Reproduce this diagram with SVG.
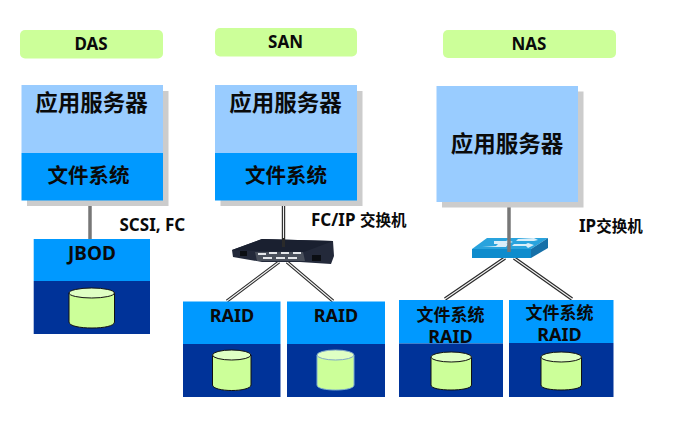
<svg xmlns="http://www.w3.org/2000/svg" width="673" height="425" viewBox="0 0 673 425">
<style>
text{font-family:"Noto Sans","Noto Sans CJK SC",sans-serif;font-weight:700;fill:#0a0a0a;text-anchor:middle}
.pill{fill:#ccff99}
.shadow{fill:#cccccc}
.light{fill:#99ccff}
.blue{fill:#0099ff}
.dark{fill:#003399}
.t22{font-size:22.500px}
.t20{font-size:20.500px}
.t17{font-size:18px}
.t15{font-size:17px}
.lab{font-size:17px;text-anchor:start}
.cjk{font-size:15.500px}
.cb{fill:#ccff99;stroke:#111;stroke-width:1}
.ct{fill:#dfffc4;stroke:#111;stroke-width:1}
.gray{stroke:#777;stroke-width:3.5;fill:none}
.dk{stroke:#2a2a2a;stroke-width:3.4;fill:none}
.wh{stroke:#f2f2f2;stroke-width:1.1;fill:none}
</style>
<rect width="673" height="425" fill="#fff"/>
<g id="connectors">
<path class="gray" d="M90 200V239"/>
<path class="dk" d="M283.500 200V249"/><path class="wh" d="M283.500 200V247"/>
<path class="gray" d="M509 203V251"/>
<path class="dk" d="M279 262L227 301M287 262L333 301M505 258L445 299M514 258L572 299"/>
<path class="wh" d="M279 262L227 301M287 262L333 301M505 258L445 299M514 258L572 299"/>
</g>
<g id="das-title"><rect class="pill" x="20" y="30" width="143" height="28.500" rx="5"/><text class="t15" x="91" y="50">DAS</text></g>
<g id="san-title"><rect class="pill" x="215" y="28" width="142" height="28.500" rx="5"/><text class="t15" x="285.500" y="48">SAN</text></g>
<g id="nas-title"><rect class="pill" x="443" y="30" width="173" height="28" rx="5"/><text class="t15" x="529" y="50">NAS</text></g>
<g id="das-server">
<rect class="shadow" x="27" y="91" width="141.500" height="115"/>
<rect class="light" x="21.500" y="85" width="141.500" height="68"/>
<rect class="blue" x="21.500" y="153" width="141.500" height="47.500"/>
<text class="t22" x="91.500" y="111">应用服务器</text>
<text class="t20" x="88.500" y="183">文件系统</text>
</g>
<g id="san-server">
<rect class="shadow" x="220.500" y="91" width="142" height="115"/>
<rect class="light" x="215" y="85" width="142" height="68"/>
<rect class="blue" x="215" y="153" width="142" height="47.500"/>
<text class="t22" x="285.500" y="111">应用服务器</text>
<text class="t20" x="286" y="183">文件系统</text>
</g>
<g id="nas-server">
<rect class="shadow" x="442" y="91.500" width="141.500" height="116"/>
<rect class="light" x="436.500" y="86" width="141.500" height="116"/>
<text class="t22" x="507" y="152">应用服务器</text>
</g>
<g id="jbod">
<rect class="blue" x="33.700" y="239" width="116.300" height="42"/>
<rect class="dark" x="33.700" y="281" width="116.300" height="53"/>
<text x="92" y="259.500" style="font-size:19px">JBOD</text>
<path class="cb" d="M69 293V322C69 326 80 328 92 328S114.500 326 114.500 322V293Z"/><ellipse class="ct" cx="91.700" cy="293" rx="22.700" ry="5"/>
</g>
<g id="raid-1">
<rect class="blue" x="183" y="301.500" width="97.500" height="42.500"/>
<rect class="dark" x="183" y="344" width="97.500" height="53"/>
<text class="t17" x="232" y="322">RAID</text>
<path class="cb" d="M212.500 355V385C212.500 388.500 222 390.500 231.700 390.500S251 388.500 251 385V355Z"/><ellipse class="ct" cx="231.700" cy="355" rx="19.200" ry="5"/>
</g>
<g id="raid-2">
<rect class="blue" x="287" y="301.500" width="98" height="42.500"/>
<rect class="dark" x="287" y="344" width="98" height="53"/>
<text class="t17" x="336" y="322">RAID</text>
<path d="M317 355V385C317 388.500 326 390 335.500 390S354 388.500 354 385V355Z" fill="#ccff99" stroke="#7fb0d0"/><ellipse cx="335.500" cy="355" rx="18.500" ry="5" fill="#dfffc4" stroke="#7fa8c8"/>
</g>
<g id="nas-raid-1">
<rect class="blue" x="399" y="300" width="104" height="43.500"/>
<rect class="dark" x="399" y="343.500" width="104" height="53.500"/>
<text x="450.500" y="321" style="font-size:17px">文件系统</text>
<text class="t17" x="450.500" y="342.500">RAID</text>
<path class="cb" d="M431 357V385C431 388.500 441 390 451 390S471.500 388.500 471.500 385V357Z"/><ellipse class="ct" cx="451.200" cy="357" rx="20.300" ry="5"/>
</g>
<g id="nas-raid-2">
<rect class="blue" x="509" y="300" width="104.500" height="43"/>
<rect class="dark" x="509" y="343" width="104.500" height="54"/>
<text x="559.500" y="319" style="font-size:17px">文件系统</text>
<text class="t17" x="559.500" y="340.500">RAID</text>
<path class="cb" d="M541 357V385C541 388.500 551 390 561 390S581.500 388.500 581.500 385V357Z"/><ellipse class="ct" cx="561.200" cy="357" rx="20.300" ry="5"/>
</g>
<g id="fc-switch">
<path d="M232 250L262 239L333 241L334 256L331 264L300 262L262 262L233 257Z" fill="#23293a"/>
<path d="M232 250L262 239L333 241L304 252L262 251Z" fill="#1a2030"/>
<path d="M255 252L303 252L305 261L257 261Z" fill="#4a505c"/>
<path d="M258 253h8v2h-8zM269 252h8v2h-8zM281 252h8v2h-8zM293 252h8v2h-8zM263 257h9v2h-9zM276 257h9v2h-9zM288 257h9v2h-9z" fill="#e4e6ea"/>
<rect x="240" y="251" width="7" height="5" fill="#0b0e13"/><rect x="312" y="255" width="9" height="6" fill="#0b0e13"/>
<path d="M283.500 238V247" stroke="#2a2a2a" stroke-width="3"/>
</g>
<g id="ip-switch">
<path d="M472 249L487 238H548L531 249Z" fill="#29a3dd"/>
<path d="M531 249L548 238V248L531 258Z" fill="#1670a8"/>
<rect x="472" y="249" width="59" height="9" fill="#0e8ccd"/>
<path d="M482 247L496 246L498 244H508L506 247ZM494 241H506L508 240L513 242L506 244H494ZM512 246H526L528 248L534 245L528 243L526 244H514ZM516 241H534L538 240L534 238L518 239Z" fill="#d9eef9"/>
<path d="M509 238V252" stroke="#777" stroke-width="3.500" fill="none"/>
</g>
<g id="labels">
<text class="lab" x="119.500" y="231">SCSI, FC</text>
<text class="lab" x="311" y="226">FC/IP <tspan class="cjk">交换机</tspan></text>
<text class="lab" x="579" y="232">IP<tspan class="cjk">交换机</tspan></text>
</g>
</svg>
